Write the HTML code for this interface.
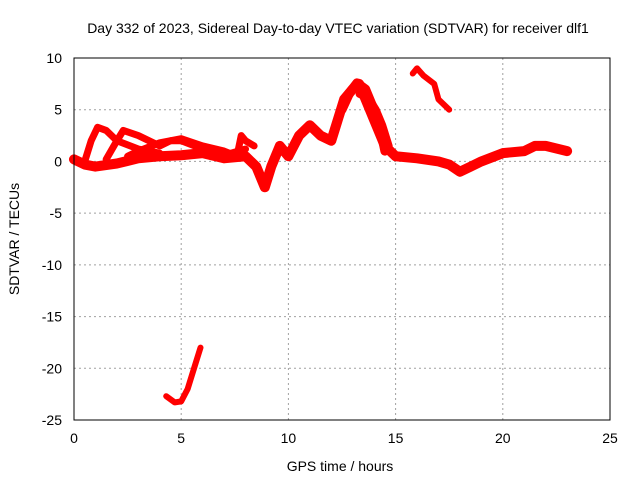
<!DOCTYPE html>
<html><head><meta charset="utf-8"><style>
body{margin:0;background:#fff}
svg text{font-family:"Liberation Sans",sans-serif;font-size:14px;fill:#000}
</style></head><body>
<svg id="chart" width="640" height="480">
<rect width="640" height="480" fill="#fff"/>
<text x="338" y="33" text-anchor="middle">Day 332 of 2023, Sidereal Day-to-day VTEC variation (SDTVAR) for receiver dlf1</text>
<text x="340" y="471" text-anchor="middle">GPS time / hours</text>
<text transform="translate(19,239) rotate(-90)" text-anchor="middle">SDTVAR / TECUs</text>
<g id="grid"></g><g id="ticks"></g><g id="series"></g>
<rect x="74" y="58" width="536" height="362" fill="none" stroke="#000"/>
</svg>
<script>
const xTicks=[0,5,10,15,20,25];
const yTicks=[10,5,0,-5,-10,-15,-20,-25];
const seriesMain=[[0,0.2],[0.5,-0.3],[1,-0.5],[2,-0.2],[3,0.3],[4,0.5],[5,0.6],[6,0.8],[7,0.3],[8,0.5],[8.5,-0.5],[8.9,-2.5],[9.2,-0.5],[9.6,1.5],[10,0.5],[10.5,2.5],[11,3.5],[11.5,2.5],[12,2],[12.3,4],[12.6,6],[13,7],[13.3,7.5],[13.6,6],[14,4],[14.5,1.5],[15,0.5],[16,0.3],[17,0],[17.5,-0.3],[18,-1],[18.5,-0.5],[19,0],[20,0.8],[21,1],[21.5,1.5],[22,1.5],[23,1]];
const seriesLoop1=[[0.5,0],[0.8,2],[1.1,3.3],[1.5,3],[2,2],[3,1.2],[4,0.8]];
const seriesLoop2=[[1.5,0.2],[2,2],[2.3,3],[3,2.5],[4,1.5],[4.5,2],[5,2],[6,1.2],[7,0.6],[8,1.2]];
const seriesLoop3=[[2.5,0.5],[3,1],[4,1.8],[5,2.2],[6,1.5],[7,1],[7.6,0.5],[7.8,2.5],[8,2],[8.4,1.5]];
const seriesPeak1=[[12.5,5],[12.9,6.8],[13.2,7.6],[13.6,7],[14,5],[14.3,3],[14.5,1]];
const seriesPeak2=[[13.3,6.5],[13.8,6],[14.1,5],[14.4,3.5],[14.7,1.5]];
const seriesTop=[[15.8,8.5],[16,9],[16.3,8.3],[16.8,7.5],[17,6],[17.5,5]];
const seriesLow=[[4.3,-22.7],[4.7,-23.3],[5,-23.2],[5.3,-22],[5.6,-20],[5.9,-18]];
const X=t=>74+t*(536/25);
const Y=v=>58+(10-v)*(362/35);
const NS="http://www.w3.org/2000/svg";
const grid=document.getElementById('grid'),ticks=document.getElementById('ticks'),ser=document.getElementById('series');
function mk(tag,attrs,parent){const e=document.createElementNS(NS,tag);for(const k in attrs)e.setAttribute(k,attrs[k]);parent.appendChild(e);return e;}
xTicks.forEach(t=>{
  if(t>0&&t<25){const g=mk('line',{x1:X(t),x2:X(t),y1:58,y2:420,stroke:'#a0a0a0','stroke-dasharray':'2,3'},grid);
  
  }
  const l=mk('text',{x:X(t),y:443,'text-anchor':'middle'},ticks);l.textContent=t;
  
  
});
yTicks.forEach(v=>{
  if(v<10&&v>-25){const g=mk('line',{x1:74,x2:610,y1:Y(v),y2:Y(v),stroke:'#a0a0a0','stroke-dasharray':'2,3'},grid);
  
  }
  const l=mk('text',{x:62,y:Y(v)+5,'text-anchor':'end'},ticks);l.textContent=v;
  
  
});
const all=[[seriesMain,10,'main'],[seriesLoop1,7,'loop-1'],[seriesLoop2,7,'loop-2'],[seriesLoop3,7,'loop-3'],[seriesPeak1,9,'peak-1'],[seriesPeak2,7,'peak-2'],[seriesTop,6,'top'],[seriesLow,6,'low']];
all.forEach(([d,w,n])=>{
  const p=mk('polyline',{points:d.map(q=>X(q[0])+','+Y(q[1])).join(' '),fill:'none',stroke:'#ff0000','stroke-width':w,'stroke-linejoin':'round','stroke-linecap':'round'},ser);
  
  
});
</script>
</body></html>
